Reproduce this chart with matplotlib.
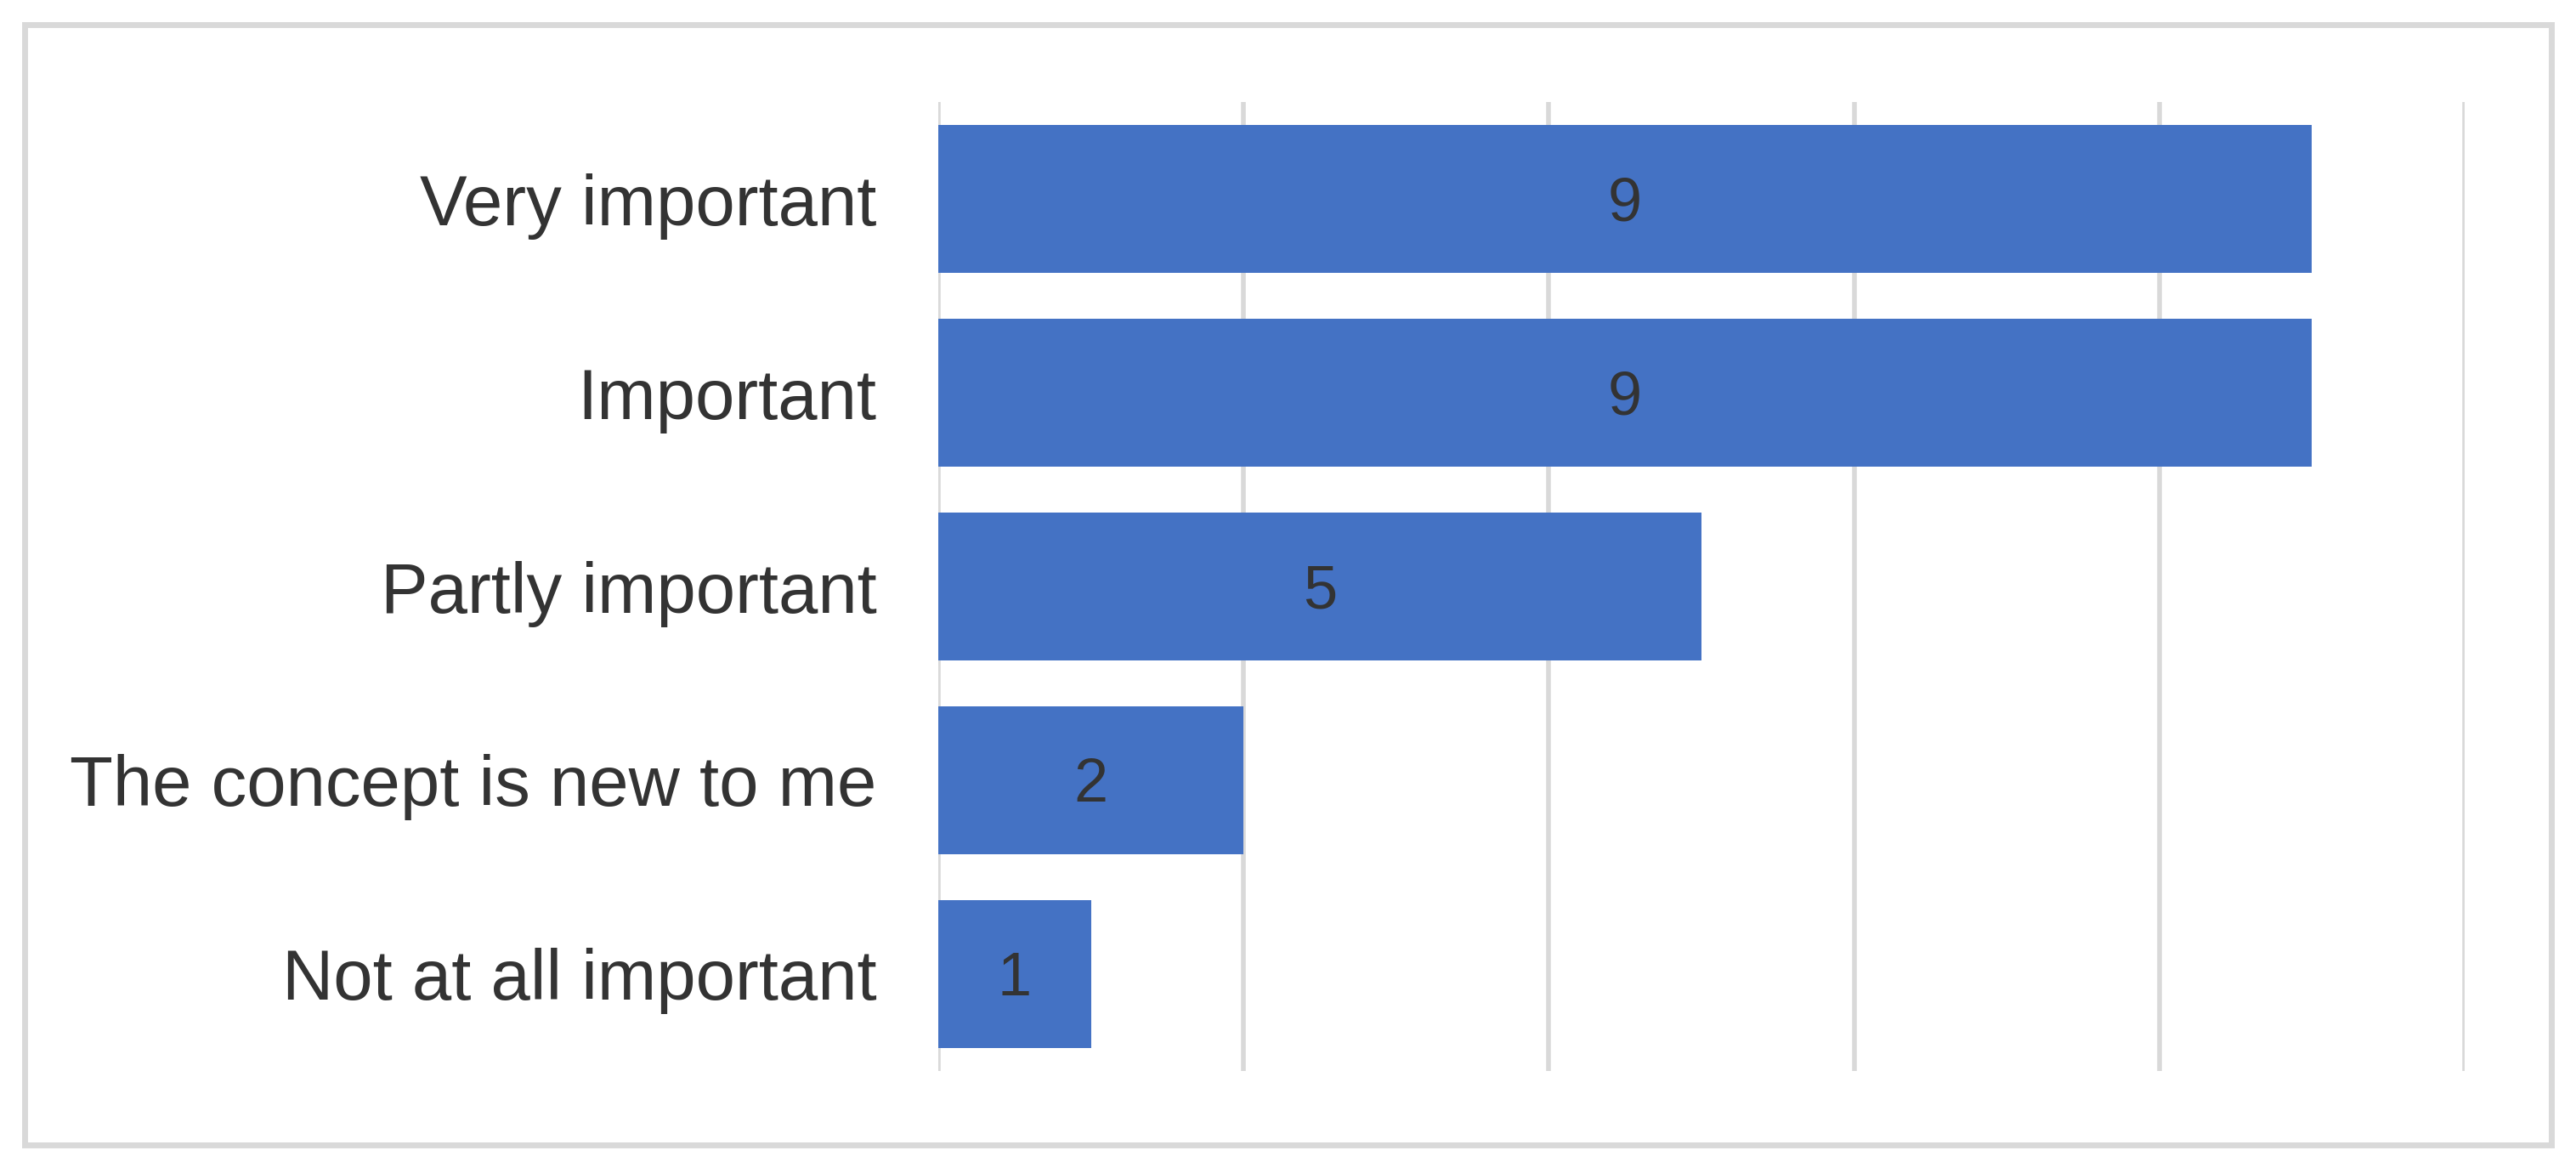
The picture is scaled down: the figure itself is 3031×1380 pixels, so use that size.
import matplotlib.pyplot as plt
from matplotlib.patches import Rectangle

# survey answers, top to bottom
categories = ['Very important', 'Important', 'Partly important',
              'The concept is new to me', 'Not at all important']
counts = [9, 9, 5, 2, 1]
x_ticks = [0, 2, 4, 6, 8, 10]

bar_color = '#4472C4'
grid_color = '#D9D9D9'
text_color = '#333333'

plt.rcParams['font.family'] = ['Liberation Sans', 'DejaVu Sans']

fig = plt.figure(figsize=(30.31, 13.8), dpi=100)
ax = fig.add_axes([0.3642, 0.087, 0.5926, 0.826])

y = list(range(len(categories)))
bars = ax.barh(y, counts, height=0.76, color=bar_color, zorder=3)

# value labels in the middle of each bar
for b, v in zip(bars, counts):
    ax.text(b.get_x() + b.get_width() / 2, b.get_y() + b.get_height() / 2 + 0.03, str(v),
            ha='center', va='center', fontsize=52, color=text_color, zorder=4)

ax.set_yticks(y)
ax.set_yticklabels(categories, fontsize=60, color=text_color)
ax.set_ylim(len(categories) - 0.5, -0.5)
ax.set_xlim(0, 10)
ax.set_xticks(x_ticks)
ax.set_xticklabels([])
ax.tick_params(axis='both', length=0)
ax.tick_params(axis='y', pad=52)
ax.xaxis.grid(True, color=grid_color, linewidth=4, zorder=0)
ax.set_axisbelow(True)
for s in ax.spines.values():
    s.set_visible(False)

# outer chart border
fig.patches.append(Rectangle((29 / 3031, 33 / 1380), 2973 / 3031, 1318 / 1380,
                             transform=fig.transFigure, fill=False,
                             edgecolor=grid_color, linewidth=5))

fig.savefig('out.png', dpi=100, facecolor='white')
